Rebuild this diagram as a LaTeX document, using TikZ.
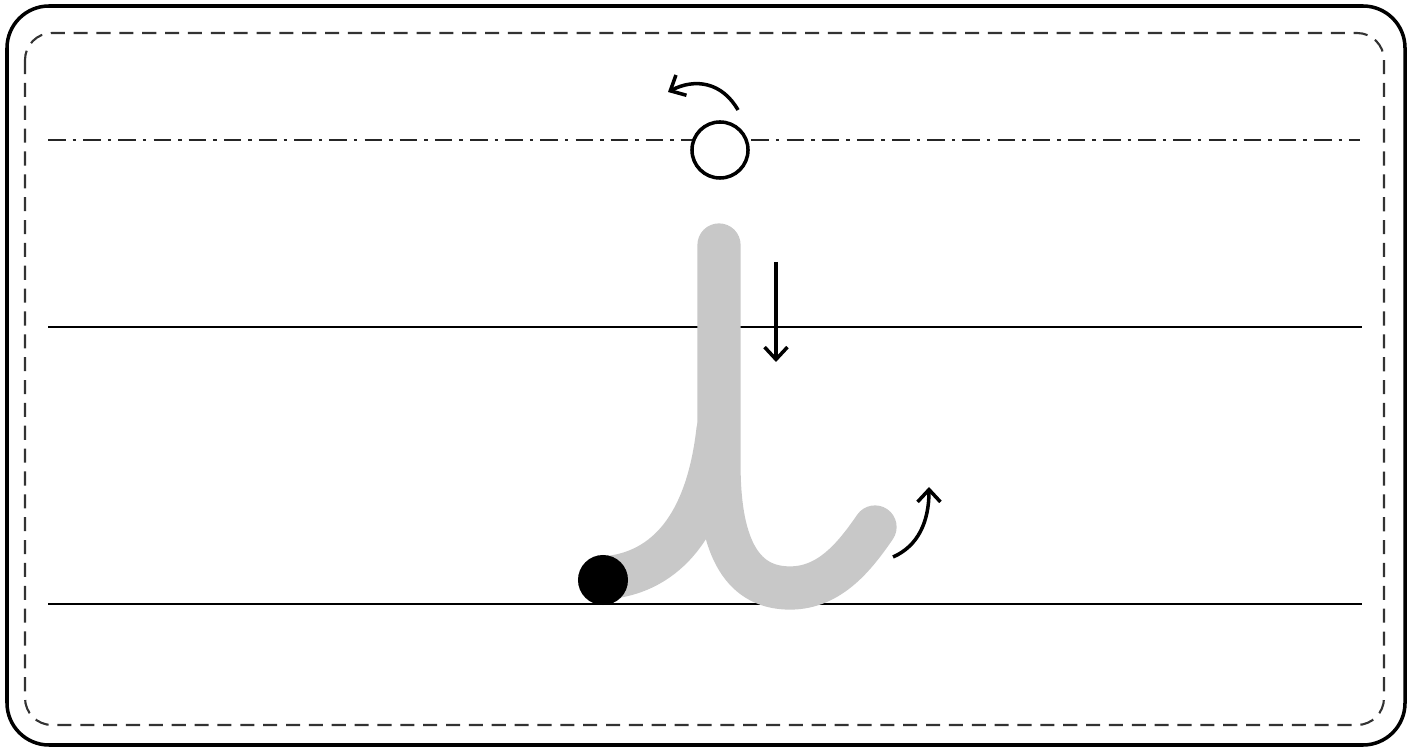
\documentclass[tikz,border=0pt]{standalone}
\usepackage{tikz}
\usetikzlibrary{arrows.meta, positioning}
\definecolor{stroke_gray}{RGB}{200,200,200}
\tikzset{
  outer_frame/.style={draw=black, line width=1pt, rounded corners=0.42cm},
  inner_frame/.style={draw=black!80, line width=0.6pt, dash pattern=on 4pt off 2.5pt, rounded corners=0.27cm},
  base_line/.style={draw=black, line width=0.7pt},
  mid_line/.style={draw=black!85, line width=0.6pt, dash pattern=on 5pt off 2pt on 1pt off 2pt},
  letter_stroke/.style={draw=stroke_gray, line width=12.3pt, line cap=round, line join=round},
  start_dot/.style={circle, fill=black, minimum size=0.5cm, inner sep=0pt},
  dot_ring/.style={circle, draw=black, line width=1pt, fill=white, minimum size=0.56cm, inner sep=0pt},
  guide_arrow/.style={-{Straight Barb[length=3.5pt, width=6.5pt, line width=1pt]}, line width=1pt, black}
}

\begin{document}
\begin{tikzpicture}[x=0.01cm, y=-0.01cm]
  \useasboundingbox (0,0) rectangle (1412,749);

  % --- Frame ---
  \draw[outer_frame] (7,6) rectangle (1405,745);
  \draw[inner_frame] (25,33) rectangle (1384,725);

  % --- Ruling ---
  \draw[mid_line] (48,140) -- (1360,140);
  \draw[base_line] (48,327) -- (1362,327);
  \draw[base_line] (48,604) -- (1362,604);

  % --- Letter strokes ---
  \draw[letter_stroke] (603,578) .. controls (650,575) and (705,545) .. (718,430);
  \draw[letter_stroke] (719,245) -- (719,470)
    .. controls (720,560) and (750,588) .. (790,588)
    .. controls (830,588) and (855,556) .. (875,527);

  % --- Dots ---
  \node[start_dot] (start) at (603,580) {};
  \node[dot_ring] (ring) at (720,150) {};

  % --- Guide arrows ---
  \coordinate (turn_a) at (738,110);
  \coordinate (turn_b) at (668,92);
  \draw[guide_arrow] (turn_a) .. controls (722,82) and (695,78) .. (turn_b);

  \coordinate (down_a) at (776,262);
  \coordinate (down_b) at (776,362);
  \draw[guide_arrow] (down_a) -- (down_b);

  \coordinate (up_a) at (893,557);
  \coordinate (up_b) at (929,487);
  \draw[guide_arrow] (up_a) .. controls (918,546) and (929,522) .. (up_b);
\end{tikzpicture}
\end{document}
